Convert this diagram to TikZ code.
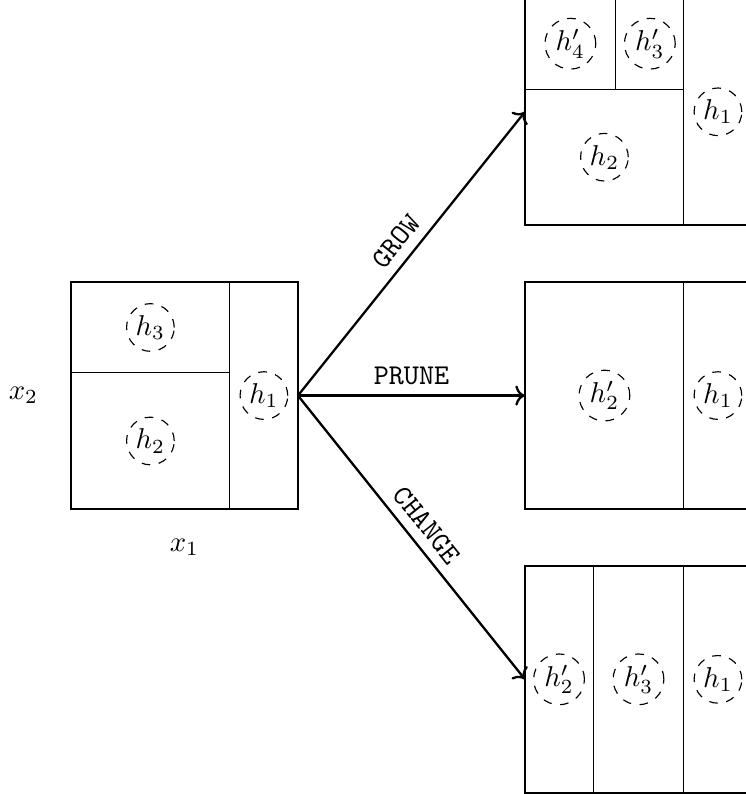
\documentclass[tikz,border=0pt]{standalone}
\usepackage{amsmath,amssymb}
\usetikzlibrary{positioning,arrows.meta}

\tikzset{
    region/.style={circle, draw, dashed, thin, inner sep=1.2pt, minimum size=16pt},
    move/.style={thick, ->},
    movelabel/.style={font=\ttfamily}
}

\begin{document}
\begin{tikzpicture}[x=0.695cm, y=0.695cm]
    \useasboundingbox (-1.25,-5.02) rectangle (11.88,8.97);

    % Current tree
    \draw[thick] (0,0) rectangle (4,4);
    \draw[thin] (2.8,0) -- (2.8,4);
    \draw[thin] (0,2.4) -- (2.8,2.4);
    \node[region] (h3) at (1.4,3.2) {$h_3$};
    \node[region] (h2) at (1.4,1.2) {$h_2$};
    \node[region] (h1) at (3.4,2) {$h_1$};
    \node[left] (x2) at (-0.4,2) {$x_2$};
    \node[below] (x1) at (2,-0.35) {$x_1$};

    % Grow
    \draw[thick] (8,5) rectangle (12,9);
    \draw[thin] (10.8,5) -- (10.8,9);
    \draw[thin] (8,7.4) -- (10.8,7.4);
    \draw[thin] (9.6,7.4) -- (9.6,9);
    \node[region] (g4) at (8.8,8.2) {$h_4'$};
    \node[region] (g3) at (10.2,8.2) {$h_3'$};
    \node[region] (g2) at (9.4,6.2) {$h_2$};
    \node[region] (g1) at (11.4,7) {$h_1$};

    % Prune
    \draw[thick] (8,0) rectangle (12,4);
    \draw[thin] (10.8,0) -- (10.8,4);
    \node[region] (p2) at (9.4,2) {$h_2'$};
    \node[region] (p1) at (11.4,2) {$h_1$};

    % Change
    \draw[thick] (8,-5) rectangle (12,-1);
    \draw[thin] (9.2,-5) -- (9.2,-1);
    \draw[thin] (10.8,-5) -- (10.8,-1);
    \node[region] (c2) at (8.6,-3) {$h_2'$};
    \node[region] (c3) at (10,-3) {$h_3'$};
    \node[region] (c1) at (11.4,-3) {$h_1$};

    % Moves
    \coordinate (root) at (4,2);
    \coordinate (growin) at (8,7);
    \coordinate (prunein) at (8,2);
    \coordinate (changein) at (8,-3);
    \draw[move] (root) -- node[movelabel, sloped, above] {GROW} (growin);
    \draw[move] (root) -- node[movelabel, above] {PRUNE} (prunein);
    \draw[move] (root) -- node[movelabel, sloped, above] {CHANGE} (changein);
\end{tikzpicture}
\end{document}
